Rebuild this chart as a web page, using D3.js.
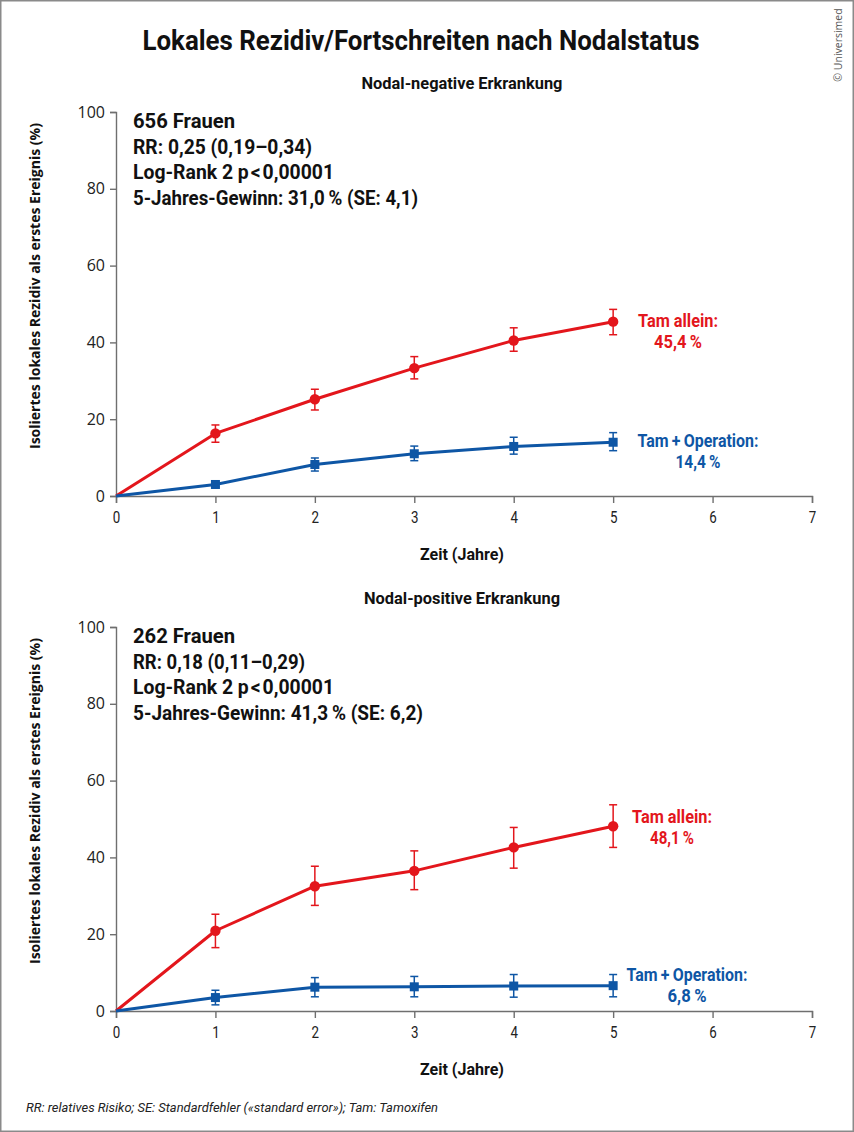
<!DOCTYPE html>
<html>
<head>
<meta charset="utf-8">
<title>Lokales Rezidiv/Fortschreiten nach Nodalstatus</title>
<script src="https://cdn.jsdelivr.net/npm/d3@7"></script>
<style>
  body { margin: 0; background: #fff; }
  .cond { font-family: "Liberation Sans Narrow", "Arial Narrow", "Roboto", sans-serif; }
  .open { font-family: "Open Sans", "Noto Sans", sans-serif; }
</style>
</head>
<body>
<svg id="chart" width="854" height="1132"></svg>
<script>
// ---- data ----
var years  = [0, 1, 2, 3, 4, 5];
var xTicks = [0, 1, 2, 3, 4, 5, 6, 7];
var yTicks = [0, 20, 40, 60, 80, 100];

// nodal-negativ
var negAlone   = [0, 16.3, 25.2, 33.3, 40.5, 45.4];
var negAloneLo = [null, 14.0, 22.4, 30.5, 37.7, 42.0];
var negAloneHi = [null, 18.5, 27.8, 36.3, 43.8, 48.6];
var negOp      = [0, 3.0, 8.2, 11.0, 12.9, 14.0];
var negOpLo    = [null, 2.4, 6.5, 9.2, 10.9, 11.8];
var negOpHi    = [null, 3.6, 9.9, 13.0, 15.3, 16.5];

// nodal-positiv
var posAlone   = [0, 20.9, 32.5, 36.5, 42.6, 48.1];
var posAloneLo = [null, 16.5, 27.5, 31.6, 37.2, 42.6];
var posAloneHi = [null, 25.2, 37.7, 41.7, 47.8, 53.7];
var posOp      = [0, 3.5, 6.2, 6.3, 6.5, 6.6];
var posOpLo    = [null, 1.6, 3.7, 3.7, 3.6, 3.7];
var posOpHi    = [null, 5.4, 8.7, 9.0, 9.5, 9.5];

var negInfo = ["656 Frauen", "RR: 0,25 (0,19\u20130,34)", "Log-Rank 2 p\u200a<\u200a0,00001", "5-Jahres-Gewinn: 31,0\u2009% (SE: 4,1)"];
var posInfo = ["262 Frauen", "RR: 0,18 (0,11\u20130,29)", "Log-Rank 2 p\u200a<\u200a0,00001", "5-Jahres-Gewinn: 41,3\u2009% (SE: 6,2)"];
var negEnd  = ["45,4\u2009%", "14,4\u2009%"];
var posEnd  = ["48,1\u2009%", "6,8\u2009%"];

var red = "#e3161c", blue = "#0e56a5", axisCol = "#6f6f6f";

var svg = d3.select("#chart");

// frame
svg.append("rect").attr("x", 0.75).attr("y", 0.75).attr("width", 852.5).attr("height", 1130.5)
   .attr("fill", "none").attr("stroke", "#8a8a8a").attr("stroke-width", 1.5);

svg.append("text").attr("class", "cond")
   .attr("x", 421).attr("y", 50).attr("text-anchor", "middle")
   .attr("font-size", 28).attr("font-weight", 700).attr("fill", "#111")
   .attr("textLength", 557).attr("lengthAdjust", "spacingAndGlyphs")
   .text("Lokales Rezidiv/Fortschreiten nach Nodalstatus");

svg.append("text").attr("class", "open")
   .attr("transform", "translate(842,45) rotate(-90)")
   .attr("text-anchor", "middle").attr("font-size", 10.5).attr("fill", "#555")
   .text("\u00a9 Universimed");

function drawPanel(dy, sub, subW, info, infoW, alone, aloneLo, aloneHi, op, opLo, opHi, endTxt, lab) {
  var x = d3.scaleLinear().domain([0, 7]).range([116, 812]);
  var y = d3.scaleLinear().domain([0, 100]).range([496 + dy, 112 + dy]);
  var g = svg.append("g");

  g.append("text").attr("class", "cond")
   .attr("x", 462).attr("y", 89 + dy).attr("text-anchor", "middle")
   .attr("font-size", 16).attr("font-weight", 700).attr("fill", "#111")
   .attr("textLength", subW).attr("lengthAdjust", "spacingAndGlyphs")
   .text(sub);

  // axes
  var yAxis = g.append("g").attr("transform", "translate(116,0)")
     .call(d3.axisLeft(y).tickValues(yTicks).tickSize(6).tickPadding(5));
  yAxis.selectAll("text").attr("class", "open").attr("font-size", 16).attr("fill", "#222");
  var xAxis = g.append("g").attr("transform", "translate(0," + y(0) + ")")
     .call(d3.axisBottom(x).tickValues(xTicks).tickFormat(d3.format("d")).tickSize(7).tickPadding(8));
  xAxis.selectAll("text").attr("class", "cond").attr("font-size", 17).attr("fill", "#222")
     .attr("textLength", 7.5).attr("lengthAdjust", "spacingAndGlyphs");
  g.selectAll(".domain, .tick line").attr("stroke", axisCol).attr("stroke-width", 1.4);

  g.append("text").attr("class", "open")
   .attr("transform", "translate(40," + (y(50) - 18) + ") rotate(-90)")
   .attr("text-anchor", "middle").attr("font-size", 14.5).attr("font-weight", 700).attr("fill", "#111")
   .attr("textLength", 326).attr("lengthAdjust", "spacingAndGlyphs")
   .text("Isoliertes lokales Rezidiv als erstes Ereignis (%)");

  g.append("text").attr("class", "cond")
   .attr("x", 462).attr("y", 560 + dy).attr("text-anchor", "middle")
   .attr("font-size", 16).attr("font-weight", 700).attr("fill", "#111")
   .attr("textLength", 84).attr("lengthAdjust", "spacingAndGlyphs")
   .text("Zeit (Jahre)");

  g.selectAll(".info").data(info).enter().append("text").attr("class", "cond")
   .attr("x", 133).attr("y", function(d, i) { return 128 + dy + i * 25.7; })
   .attr("font-size", 20).attr("font-weight", 700).attr("fill", "#111")
   .attr("textLength", function(d, i) { return infoW[i]; }).attr("lengthAdjust", "spacingAndGlyphs")
   .text(function(d) { return d; });

  var line = d3.line().x(function(d, i) { return x(years[i]); }).y(function(d) { return y(d); });

  function series(vals, lo, hi, col, square) {
    var s = g.append("g");
    s.append("path").datum(vals).attr("d", line).attr("fill", "none")
     .attr("stroke", col).attr("stroke-width", 3).attr("stroke-linejoin", "round");
    var idx = d3.range(1, vals.length);
    idx.forEach(function(i) {
      var xx = x(years[i]);
      s.append("line").attr("x1", xx).attr("x2", xx).attr("y1", y(lo[i])).attr("y2", y(hi[i]))
       .attr("stroke", col).attr("stroke-width", 1.5);
      [lo[i], hi[i]].forEach(function(v) {
        s.append("line").attr("x1", xx - 4).attr("x2", xx + 4).attr("y1", y(v)).attr("y2", y(v))
         .attr("stroke", col).attr("stroke-width", 1.5);
      });
    });
    if (square) {
      s.selectAll("rect").data(idx).enter().append("rect")
       .attr("x", function(i) { return x(years[i]) - 4.5; })
       .attr("y", function(i) { return y(vals[i]) - 4.5; })
       .attr("width", 9).attr("height", 9).attr("fill", col);
    } else {
      s.selectAll("circle").data(idx).enter().append("circle")
       .attr("cx", function(i) { return x(years[i]); })
       .attr("cy", function(i) { return y(vals[i]); })
       .attr("r", 5.2).attr("fill", col);
    }
  }
  series(alone, aloneLo, aloneHi, red, false);
  series(op, opLo, opHi, blue, true);

  function label(cx, by, col, txt, w) {
    g.append("text").attr("class", "cond").attr("x", cx).attr("y", by)
     .attr("text-anchor", "middle").attr("font-size", 18).attr("font-weight", 700).attr("fill", col)
     .attr("textLength", w).attr("lengthAdjust", "spacingAndGlyphs").text(txt);
  }
  label(lab.ax, lab.ay, red, "Tam allein:", 80);
  label(lab.ax, lab.ay + 21, red, endTxt[0], lab.aw);
  label(lab.ox, lab.oy, blue, "Tam\u2009+\u2009Operation:", 121);
  label(lab.ox, lab.oy + 21, blue, endTxt[1], lab.ow);
}

drawPanel(0, "Nodal-negative Erkrankung", 201, negInfo, [102, 179, 201, 285],
          negAlone, negAloneLo, negAloneHi, negOp, negOpLo, negOpHi, negEnd,
          { ax: 678, ay: 327, aw: 48, ox: 698, oy: 447, ow: 45 });
drawPanel(515, "Nodal-positive Erkrankung", 196, posInfo, [102, 172, 201, 290],
          posAlone, posAloneLo, posAloneHi, posOp, posOpLo, posOpHi, posEnd,
          { ax: 672, ay: 823, aw: 44, ox: 687, oy: 981, ow: 39 });

svg.append("text").attr("class", "cond")
   .attr("x", 26).attr("y", 1112).attr("font-size", 13).attr("font-style", "italic").attr("fill", "#222")
   .attr("textLength", 412).attr("lengthAdjust", "spacingAndGlyphs")
   .text("RR: relatives Risiko; SE: Standardfehler (\u00abstandard error\u00bb); Tam: Tamoxifen");
</script>
</body>
</html>
